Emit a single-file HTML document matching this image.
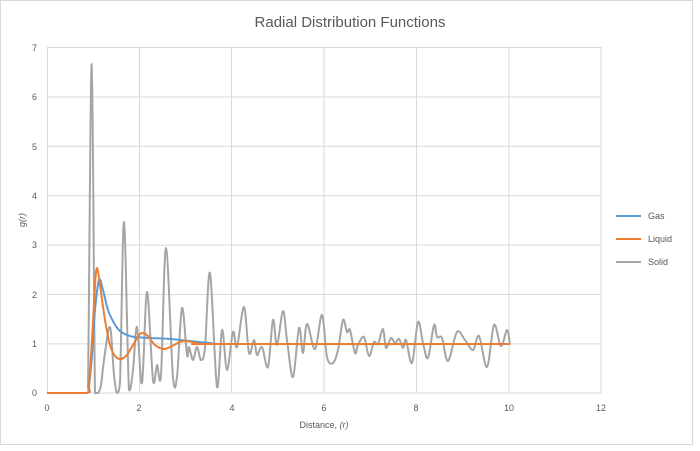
<!DOCTYPE html>
<html><head><meta charset="utf-8"><style>
html,body{margin:0;padding:0;background:#fff;}
svg{display:block;font-family:"Liberation Sans",sans-serif;}
</style></head><body>
<svg width="700" height="451" viewBox="0 0 700 451">
<rect x="0.5" y="0.5" width="692" height="444" fill="#fff" stroke="#d9d9d9"/>
<text x="350" y="27" text-anchor="middle" font-size="15" fill="#595959">Radial Distribution Functions</text>
<g stroke="#d9d9d9" stroke-width="1">
<line x1="47" y1="47.5" x2="601" y2="47.5"/>
<line x1="47" y1="96.9" x2="601" y2="96.9"/>
<line x1="47" y1="146.3" x2="601" y2="146.3"/>
<line x1="47" y1="195.7" x2="601" y2="195.7"/>
<line x1="47" y1="245.1" x2="601" y2="245.1"/>
<line x1="47" y1="294.5" x2="601" y2="294.5"/>
<line x1="47" y1="343.9" x2="601" y2="343.9"/>
<line x1="47" y1="393" x2="601" y2="393"/>
<line x1="47.5" y1="47" x2="47.5" y2="393"/>
<line x1="139.5" y1="47" x2="139.5" y2="393"/>
<line x1="231.5" y1="47" x2="231.5" y2="393"/>
<line x1="324" y1="47" x2="324" y2="393"/>
<line x1="416.5" y1="47" x2="416.5" y2="393"/>
<line x1="509" y1="47" x2="509" y2="393"/>
<line x1="601" y1="47" x2="601" y2="393"/>
</g>
<g font-size="9" fill="#595959" text-anchor="end">
<text x="37" y="51">7</text><text x="37" y="100">6</text><text x="37" y="150">5</text>
<text x="37" y="199">4</text><text x="37" y="248">3</text><text x="37" y="298">2</text>
<text x="37" y="347">1</text><text x="37" y="396">0</text>
</g>
<g font-size="9" fill="#595959" text-anchor="middle">
<text x="47" y="411">0</text><text x="139" y="411">2</text><text x="232" y="411">4</text>
<text x="324" y="411">6</text><text x="416" y="411">8</text><text x="509" y="411">10</text><text x="601" y="411">12</text>
</g>
<text x="324" y="428" text-anchor="middle" font-size="9" fill="#595959">Distance, <tspan font-style="italic">(r)</tspan></text>
<text transform="translate(25,220) rotate(-90)" text-anchor="middle" font-size="9" fill="#595959" font-style="italic">g(r)</text>
<path id="solid" fill="none" stroke="#a5a5a5" stroke-width="2" stroke-linejoin="round"/>
<path id="gas" fill="none" stroke="#5b9bd5" stroke-width="2" stroke-linejoin="round"/>
<path id="liquid" fill="none" stroke="#ed7d31" stroke-width="2" stroke-linejoin="round"/>
<g font-size="9" fill="#595959">
<line x1="616" y1="216" x2="641" y2="216" stroke="#5b9bd5" stroke-width="2"/><text x="648" y="219">Gas</text>
<line x1="616" y1="239" x2="641" y2="239" stroke="#ed7d31" stroke-width="2"/><text x="648" y="242">Liquid</text>
<line x1="616" y1="262" x2="641" y2="262" stroke="#a5a5a5" stroke-width="2"/><text x="648" y="265">Solid</text>
</g>
</svg>
<script>
function sm(id,s){
  var a=s.trim().split(/\s+/).map(function(p){return p.split(',').map(Number);});
  var d='M'+a[0][0]+','+a[0][1];
  for(var i=0;i<a.length-1;i++){
    var p0=a[i-1]||a[i],p1=a[i],p2=a[i+1],p3=a[i+2]||a[i+1];
    var t=1/6;
    var c1x=p1[0]+(p2[0]-p0[0])*t,c1y=p1[1]+(p2[1]-p0[1])*t;
    var c2x=p2[0]-(p3[0]-p1[0])*t,c2y=p2[1]-(p3[1]-p1[1])*t;
    c1y=Math.min(c1y,393);c2y=Math.min(c2y,393);
    d+=' C'+c1x.toFixed(1)+','+c1y.toFixed(1)+' '+c2x.toFixed(1)+','+c2y.toFixed(1)+' '+p2[0]+','+p2[1];
  }
  document.getElementById(id).setAttribute('d',d);
}
sm('solid',"47,393 86,393 88,385 91.7,64 95,393 98,393 101,385 104,360 110,327 114,375 117,393 120,383 124,222 129,390 133,370 137,327 142,383 147,292 153,380 157,365 161,375 166,248 173,378 177,377 182,308 187,355 189,347 193,360 197,347 201,360 205,347 210,273 217,387 222,330 227,370 233,332 237,347 244,307 249,353 254,340 257,355 262,347 268,367 273,320 277,345 283,311 287,340 293,377 299,328 303,353 307,324 315,349 322,315 327,357 333,363 338,350 343,320 347,332 350,330 355,353 358,345 364,337 369,356 374,342 378,344 383,329 386,348 391,338 395,343 399,339 403,348 406,340 412,363 418,322 423,343 428,358 434,325 437,337 442,338 448,361 457,332 465,340 473,350 479,336 487,367 494,325 501,346 507,330 510,345");
sm('gas',"47,393 86,393 89,386 92,355 95,310 99,280 103,290 108,310 114,323 120,331 127,335 135,337 150,338 170,339 190,341 210,343 240,344 509,344");
sm('liquid',"47,393 86,393 89,383 92,340 95,285 97,268 100,285 105,320 110,345 115,356 120,359 126,356 133,345 139,335 143,333 148,336 155,345 164,349 172,346 180,342 185,341 192,342 200,344 220,344 509,344");
</script>
</body></html>
